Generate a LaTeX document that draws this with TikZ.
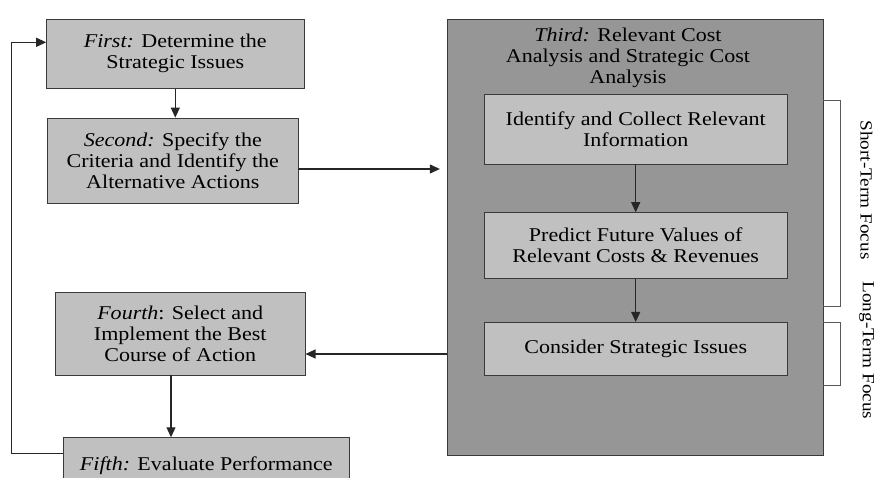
\documentclass[tikz,border=0pt]{standalone}
\usepackage{fontspec}
\setmainfont{Liberation Serif}[FakeStretch=1.13]
\usepackage{xcolor}
\usetikzlibrary{arrows.meta,positioning,calc}

\definecolor{boxgray}{HTML}{C0C0C0}
\definecolor{outergray}{HTML}{969696}
\definecolor{edgegray}{HTML}{3A3A3A}

\begin{document}
\begin{tikzpicture}[
    x=1pt, y=-1pt,
    step box/.style={rectangle, draw=edgegray, line width=0.9pt, fill=boxgray, align=center, inner sep=0pt,
        font=\fontsize{19.5}{21}\selectfont},
    outer box/.style={rectangle, draw=edgegray, line width=0.9pt, fill=outergray, inner sep=0pt},
    arrow/.style={-{Triangle[length=10pt,width=9pt]}, line width=1.1pt, draw=black!85},
    bracket/.style={draw=black!65, line width=0.9pt},
    focus/.style={rotate=-90, inner sep=0pt, font=\fontsize{17}{19}\selectfont}
]
\useasboundingbox (0,0) rectangle (877,478);
\clip (0,0) rectangle (877,478);

% Left column
\node[step box, minimum width=257.3pt, minimum height=69pt] (first) at (175.3,53.8)
    {\textit{First:} Determine the\\Strategic Issues};
\node[step box, minimum width=250.3pt, minimum height=85.3pt] (second) at (172.8,160.7)
    {\textit{Second:} Specify the\\Criteria and Identify the\\Alternative Actions};
\node[step box, minimum width=249.7pt, minimum height=82.3pt] (fourth) at (180.2,333.8)
    {\textit{Fourth}: Select and\\Implement the Best\\Course of Action};
\node[step box, minimum width=286pt, minimum height=56pt] (fifth) at (206.3,465.7)
    {\textit{Fifth:} Evaluate Performance};

% Third step
\node[outer box, minimum width=376pt, minimum height=435.7pt] (third) at (635.3,237.2) {};
\node[align=center, inner sep=0pt, anchor=north, font=\fontsize{19.5}{21}\selectfont] (thirdtitle) at (628,27.5)
    {\textit{Third:} Relevant Cost\\Analysis and Strategic Cost\\Analysis};
\node[step box, minimum width=303.3pt, minimum height=69.7pt] (collect) at (635.7,129.2)
    {Identify and Collect Relevant\\Information};
\node[step box, minimum width=303.3pt, minimum height=65.6pt] (predict) at (635.7,245.5)
    {Predict Future Values of\\Relevant Costs \& Revenues};
\node[step box, minimum width=303.3pt, minimum height=52.7pt] (consider) at (635.7,348.7)
    {Consider Strategic Issues};

% Focus brackets
\coordinate (shorttop) at (823.3,100.7);
\coordinate (shortbot) at (823.3,306.7);
\coordinate (longtop) at (823.3,322.7);
\coordinate (longbot) at (823.3,385.5);
\draw[bracket] (shorttop) -- ++(17.4,0) |- (shortbot);
\draw[bracket] (longtop) -- ++(17.4,0) |- (longbot);
\node[focus] (shortfocus) at (866.5,190) {Short-Term Focus};
\node[focus] (longfocus) at (866.5,350.5) {Long-Term Focus};

% Connections
\draw[arrow] (first.south) -- (first.south |- second.north);
\draw[arrow, shorten >=7pt] ([yshift=-8.3pt]second.east) -- ([yshift=-8.3pt]second.east -| third.west);
\draw[arrow] (collect.south) -- (predict.north);
\draw[arrow] (predict.south) -- (consider.north);
\draw[arrow] ([yshift=-20.2pt]fourth.east -| third.west) -- ([yshift=-20.2pt]fourth.east);
\draw[arrow] ([xshift=-9.2pt]fourth.south) -- ([xshift=-9.2pt]fourth.south |- fifth.north);

% Feedback loop
\coordinate (loopbot) at (11.7,453.3);
\coordinate (looptop) at (11.7,42.3);
\draw[arrow] (fifth.west |- loopbot) -- (loopbot) -- (looptop) -- (first.west |- looptop);

\end{tikzpicture}
\end{document}
